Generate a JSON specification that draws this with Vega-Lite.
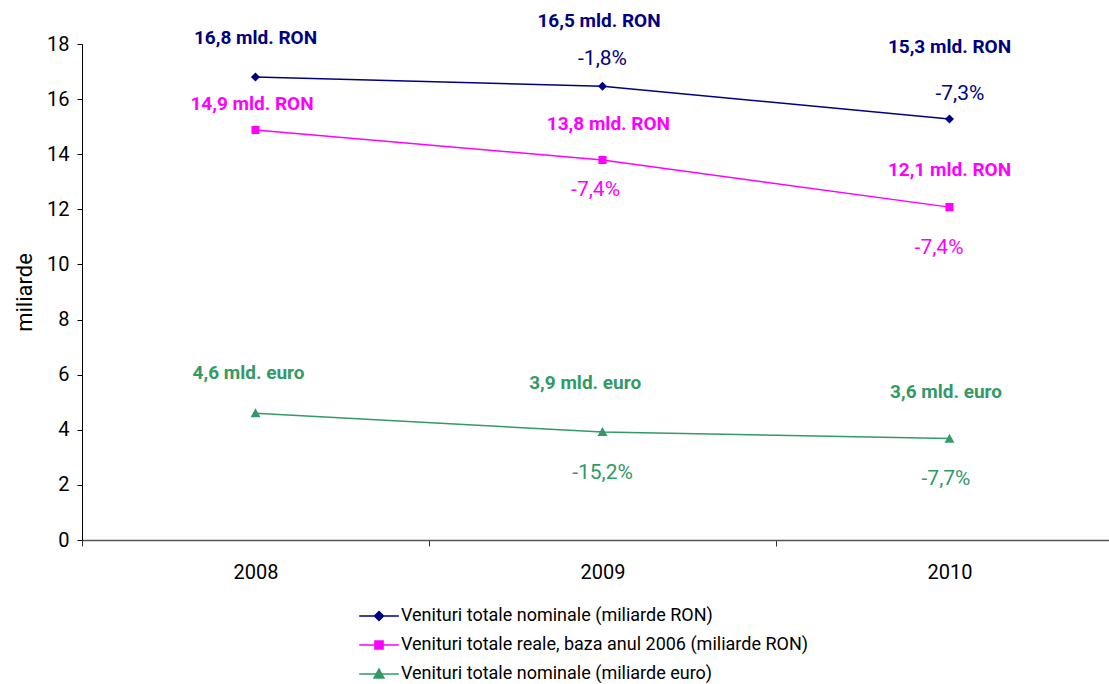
{
  "$schema": "https://vega.github.io/schema/vega-lite/v6.json",
  "autosize": {"type": "none"},
  "padding": {"left": 82, "top": 44, "right": 0, "bottom": 144},
  "width": 1027,
  "height": 496,
  "background": "white",
  "config": {
    "view": {"stroke": null},
    "font": "Roboto",
    "axis": {"labelFontSize": 20, "labelColor": "#000000", "titleFontSize": 22, "titleFontWeight": "normal", "titleColor": "#000000", "grid": false}
  },
  "resolve": {"legend": {"color": "independent", "shape": "independent", "fill": "independent", "stroke": "independent"}},
  "datasets": {
    "points": [
      {"year": 2008, "value": 16.8, "series": "Venituri totale nominale (miliarde RON)"},
      {"year": 2009, "value": 16.47, "series": "Venituri totale nominale (miliarde RON)"},
      {"year": 2010, "value": 15.28, "series": "Venituri totale nominale (miliarde RON)"},
      {"year": 2008, "value": 14.88, "series": "Venituri totale reale, baza anul 2006 (miliarde RON)"},
      {"year": 2009, "value": 13.79, "series": "Venituri totale reale, baza anul 2006 (miliarde RON)"},
      {"year": 2010, "value": 12.08, "series": "Venituri totale reale, baza anul 2006 (miliarde RON)"},
      {"year": 2008, "value": 4.6, "series": "Venituri totale nominale (miliarde euro)"},
      {"year": 2009, "value": 3.92, "series": "Venituri totale nominale (miliarde euro)"},
      {"year": 2010, "value": 3.68, "series": "Venituri totale nominale (miliarde euro)"}
    ],
    "labels": [
      {"series": "Venituri totale nominale (miliarde RON)", "year": 2008, "pos": 18.22, "text": "16,8 mld. RON", "kind": "value"},
      {"series": "Venituri totale nominale (miliarde RON)", "year": 2008.99, "pos": 18.83, "text": "16,5 mld. RON", "kind": "value"},
      {"series": "Venituri totale nominale (miliarde RON)", "year": 2009, "pos": 17.46, "text": "-1,8%", "kind": "change"},
      {"series": "Venituri totale nominale (miliarde RON)", "year": 2010, "pos": 17.89, "text": "15,3 mld. RON", "kind": "value"},
      {"series": "Venituri totale nominale (miliarde RON)", "year": 2010.03, "pos": 16.19, "text": "-7,3%", "kind": "change"},
      {"series": "Venituri totale reale, baza anul 2006 (miliarde RON)", "year": 2007.99, "pos": 15.82, "text": "14,9 mld. RON", "kind": "value"},
      {"series": "Venituri totale reale, baza anul 2006 (miliarde RON)", "year": 2009.017, "pos": 15.1, "text": "13,8 mld. RON", "kind": "value"},
      {"series": "Venituri totale reale, baza anul 2006 (miliarde RON)", "year": 2008.98, "pos": 12.7, "text": "-7,4%", "kind": "change"},
      {"series": "Venituri totale reale, baza anul 2006 (miliarde RON)", "year": 2010, "pos": 13.43, "text": "12,1 mld. RON", "kind": "value"},
      {"series": "Venituri totale reale, baza anul 2006 (miliarde RON)", "year": 2009.97, "pos": 10.6, "text": "-7,4%", "kind": "change"},
      {"series": "Venituri totale nominale (miliarde euro)", "year": 2007.98, "pos": 6.06, "text": "4,6 mld. euro", "kind": "value"},
      {"series": "Venituri totale nominale (miliarde euro)", "year": 2008.95, "pos": 5.7, "text": "3,9 mld. euro", "kind": "value"},
      {"series": "Venituri totale nominale (miliarde euro)", "year": 2009, "pos": 2.43, "text": "-15,2%", "kind": "change"},
      {"series": "Venituri totale nominale (miliarde euro)", "year": 2009.99, "pos": 5.37, "text": "3,6 mld. euro", "kind": "value"},
      {"series": "Venituri totale nominale (miliarde euro)", "year": 2009.99, "pos": 2.21, "text": "-7,7%", "kind": "change"}
    ]
  },
  "encoding": {
    "x": {
      "field": "year", "type": "quantitative",
      "scale": {"domain": [2007.5, 2010.4597], "nice": false, "zero": false},
      "axis": {
        "title": null,
        "values": [2007.5, 2008, 2008.5, 2009, 2009.5, 2010],
        "labelExpr": "datum.value % 1 === 0 ? format(datum.value, 'd') : ''",
        "tickOpacity": {"condition": {"test": "datum.value % 1 === 0", "value": 0}, "value": 1},
        "tickSize": 6, "tickColor": "#333333", "domainColor": "#555555", "domainWidth": 1.5,
        "labelPadding": 16, "labelFlush": false, "labelOverlap": false, "labelFontSize": 20
      }
    },
    "y": {
      "field": "value", "type": "quantitative",
      "scale": {"domain": [0, 18], "nice": false},
      "axis": {
        "title": "miliarde", "titlePadding": 10, "titleFontSize": 22,
        "values": [0, 2, 4, 6, 8, 10, 12, 14, 16, 18],
        "tickSize": 5, "tickColor": "#000000", "domainColor": "#000000", "labelPadding": 8, "labelFontSize": 20
      }
    }
  },
  "layer": [
    {
      "data": {"name": "points"},
      "mark": {"type": "point", "filled": false, "opacity": 0, "size": 81, "strokeWidth": 1.5},
      "encoding": {
        "stroke": {
          "field": "series", "type": "nominal",
          "scale": {
            "domain": ["Venituri totale nominale (miliarde RON)", "Venituri totale reale, baza anul 2006 (miliarde RON)", "Venituri totale nominale (miliarde euro)"],
            "range": ["#000080", "#FF00FF", "#339966"]
          },
          "legend": {
            "title": null, "orient": "none", "legendX": 288, "legendY": 563,
            "labelFontSize": 18, "labelColor": "#000000", "labelOffset": 13, "labelLimit": 600,
            "symbolSize": 81, "symbolOffset": 0, "rowPadding": 11, "padding": 0,
            "symbolOpacity": 1, "symbolStrokeWidth": 1.5
          }
        },
        "fill": {
          "field": "series", "type": "nominal",
          "scale": {
            "domain": ["Venituri totale nominale (miliarde RON)", "Venituri totale reale, baza anul 2006 (miliarde RON)", "Venituri totale nominale (miliarde euro)"],
            "range": ["#000080", "#FF00FF", "#339966"]
          },
          "legend": {
            "title": null, "orient": "none", "legendX": 288, "legendY": 563,
            "labelFontSize": 18, "labelColor": "#000000", "labelOffset": 13, "labelLimit": 600,
            "symbolSize": 81, "symbolOffset": 0, "rowPadding": 11, "padding": 0,
            "symbolOpacity": 1, "symbolStrokeWidth": 1.5
          }
        },
        "shape": {
          "field": "series", "type": "nominal",
          "scale": {
            "domain": ["Venituri totale nominale (miliarde RON)", "Venituri totale reale, baza anul 2006 (miliarde RON)", "Venituri totale nominale (miliarde euro)"],
            "range": [
              "M-4.4,0L4.4,0M0,-1L1,0L0,1L-1,0Z",
              "M-4.4,0L4.4,0M-0.9,-0.9L0.9,-0.9L0.9,0.9L-0.9,0.9Z",
              "M-4.4,0L4.4,0M0,-1.1L1.1,0.9L-1.1,0.9Z"
            ]
          },
          "legend": {
            "title": null, "orient": "none", "legendX": 288, "legendY": 563,
            "labelFontSize": 18, "labelColor": "#000000", "labelOffset": 13, "labelLimit": 600,
            "symbolSize": 81, "symbolOffset": 0, "rowPadding": 11, "padding": 0,
            "symbolOpacity": 1, "symbolStrokeWidth": 1.5
          }
        }
      }
    },
    {
      "data": {"name": "points"},
      "mark": {"type": "line", "strokeWidth": 1.5},
      "encoding": {
        "color": {
          "field": "series", "type": "nominal",
          "scale": {
            "domain": ["Venituri totale nominale (miliarde RON)", "Venituri totale reale, baza anul 2006 (miliarde RON)", "Venituri totale nominale (miliarde euro)"],
            "range": ["#000080", "#FF00FF", "#339966"]
          },
          "legend": null
        }
      }
    },
    {
      "data": {"name": "points"},
      "mark": {"type": "point", "filled": true, "opacity": 1, "size": 81},
      "encoding": {
        "color": {"field": "series", "type": "nominal", "legend": null},
        "shape": {
          "field": "series", "type": "nominal",
          "scale": {
            "domain": ["Venituri totale nominale (miliarde RON)", "Venituri totale reale, baza anul 2006 (miliarde RON)", "Venituri totale nominale (miliarde euro)"],
            "range": ["diamond", "square", "triangle-up"]
          },
          "legend": null
        }
      }
    },
    {
      "data": {"name": "labels"},
      "transform": [{"filter": "datum.kind === 'value'"}],
      "mark": {"type": "text", "align": "center", "baseline": "middle", "fontSize": 19, "fontWeight": "bold"},
      "encoding": {
        "y": {"field": "pos", "type": "quantitative"},
        "text": {"field": "text"},
        "color": {"field": "series", "type": "nominal", "legend": null}
      }
    },
    {
      "data": {"name": "labels"},
      "transform": [{"filter": "datum.kind === 'change'"}],
      "mark": {"type": "text", "align": "center", "baseline": "middle", "fontSize": 21, "fontWeight": "normal"},
      "encoding": {
        "y": {"field": "pos", "type": "quantitative"},
        "text": {"field": "text"},
        "color": {"field": "series", "type": "nominal", "legend": null}
      }
    }
  ]
}
